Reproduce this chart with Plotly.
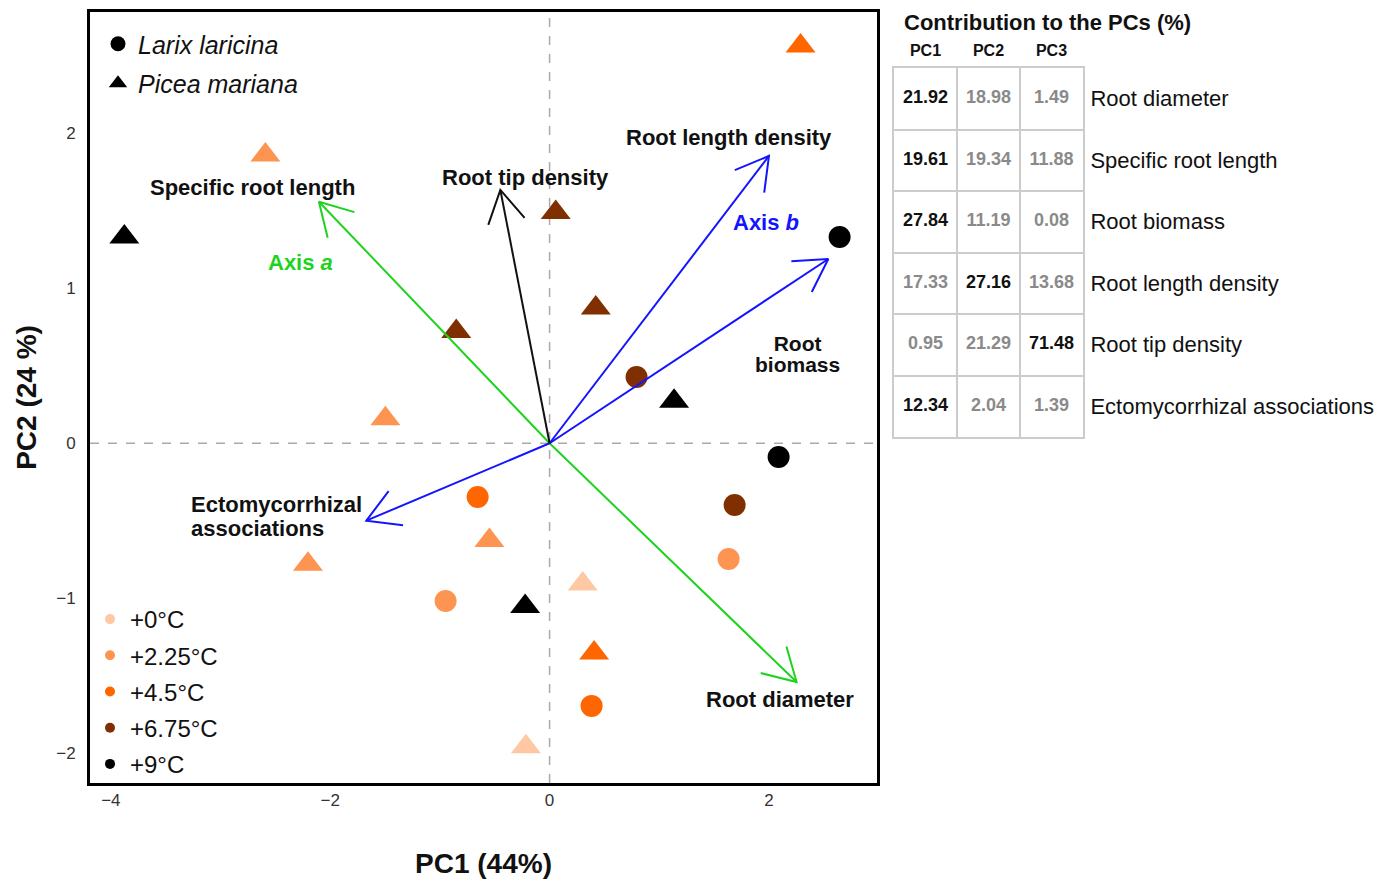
import math
import plotly.graph_objects as go

# ---------------- data ----------------
temps = ["+0°C", "+2.25°C", "+4.5°C", "+6.75°C", "+9°C"]
temp_colors = ["#FDC8A3", "#FD9452", "#FF6600", "#7F2F00", "#000000"]

larix_pc1 = [2.644, 2.088, 0.793, 1.687, 1.632, -0.656, -0.948, 0.383]
larix_pc2 = [1.330, -0.088, 0.427, -0.398, -0.746, -0.346, -1.017, -1.693]
larix_temp = ["+9°C", "+9°C", "+6.75°C", "+6.75°C", "+2.25°C", "+4.5°C", "+2.25°C", "+4.5°C"]

picea_pc1 = [2.288, -2.591, -3.877, 0.056, 0.421, 1.135, -0.851, -1.497, -0.549,
             -2.203, 0.302, -0.223, 0.406, -0.216]
picea_pc2 = [2.561, 1.858, 1.329, 1.488, 0.872, 0.271, 0.721, 0.158, -0.627,
             -0.780, -0.907, -1.053, -1.352, -1.956]
picea_temp = ["+4.5°C", "+2.25°C", "+9°C", "+6.75°C", "+6.75°C", "+9°C", "+6.75°C",
              "+2.25°C", "+2.25°C", "+2.25°C", "+0°C", "+9°C", "+4.5°C", "+0°C"]

loading_traits = ["Root diameter", "Specific root length", "Root biomass",
                  "Root length density", "Root tip density", "Ectomycorrhizal associations"]
loading_pc1 = [2.252, -2.103, 2.541, 2.000, -0.449, -1.671]
loading_pc2 = [-1.539, 1.557, 1.188, 1.852, 1.633, -0.499]
loading_axis = ["a", "a", "b", "b", "none", "b"]

contrib_traits = ["Root diameter", "Specific root length", "Root biomass",
                  "Root length density", "Root tip density", "Ectomycorrhizal associations"]
contrib_pcs = ["PC1", "PC2", "PC3"]
contrib_pc1 = [21.92, 19.61, 27.84, 17.33, 0.95, 12.34]
contrib_pc2 = [18.98, 19.34, 11.19, 27.16, 21.29, 2.04]
contrib_pc3 = [1.49, 11.88, 0.08, 13.68, 71.48, 1.39]
highlight_pc1 = [True, True, True, False, False, True]
highlight_pc2 = [False, False, False, True, False, False]
highlight_pc3 = [False, False, False, False, True, False]

# ---------------- layout constants ----------------
FONT = "Liberation Sans, Arial, sans-serif"
OFF = 8                      # page body margin of the html page
W, H = 1400 - OFF, 880 - OFF
M_L, M_R, M_T, M_B = 90 - OFF, 0, 12 - OFF, 97
PAPER_W = W - M_L - M_R
PAPER_H = H - M_T - M_B
PLOT_W = 787
X_RANGE = [-4.19, 2.985]
Y_RANGE = [-2.19, 2.78]
SX = PLOT_W / (X_RANGE[1] - X_RANGE[0])
SY = PAPER_H / (Y_RANGE[1] - Y_RANGE[0])
HEAD_LEN = 37
HEAD_ANGLE = 30
axis_colors = {"a": "#1ED31E", "b": "#1414FF", "none": "#111111"}


def px_x(px):
    return (px - OFF - M_L) / PAPER_W


def px_y(py):
    return (OFF + H - M_B - py) / PAPER_H


color_of = dict(zip(temps, temp_colors))

fig = go.Figure()

# ---------------- score points ----------------
fig.add_trace(go.Scatter(
    x=larix_pc1, y=larix_pc2, mode="markers", name="Larix laricina", showlegend=False,
    marker=dict(symbol="circle", size=22, color=[color_of[t] for t in larix_temp], line=dict(width=0)),
    text=larix_temp, hovertemplate="Larix laricina %{text}<br>PC1 %{x}<br>PC2 %{y}<extra></extra>"))
fig.add_trace(go.Scatter(
    x=picea_pc1, y=picea_pc2, mode="markers", name="Picea mariana", showlegend=False,
    marker=dict(symbol="triangle-up", size=26, color=[color_of[t] for t in picea_temp], line=dict(width=0)),
    text=picea_temp, hovertemplate="Picea mariana %{text}<br>PC1 %{x}<br>PC2 %{y}<extra></extra>"))


# ---------------- loading arrows ----------------
def arrow_path(xs, ys):
    px, py = [], []
    for x, y in zip(xs, ys):
        px += [0, x, None]
        py += [0, y, None]
        vx, vy = -x * SX, -y * SY
        n = math.hypot(vx, vy)
        ux, uy = vx / n, vy / n
        barbs = []
        for a in (math.radians(HEAD_ANGLE), -math.radians(HEAD_ANGLE)):
            rx = ux * math.cos(a) - uy * math.sin(a)
            ry = ux * math.sin(a) + uy * math.cos(a)
            barbs.append((x + rx * HEAD_LEN / SX, y + ry * HEAD_LEN / SY))
        px += [barbs[0][0], x, barbs[1][0], None]
        py += [barbs[0][1], y, barbs[1][1], None]
    return px, py


for grp in ["a", "b", "none"]:
    idx = [i for i, g in enumerate(loading_axis) if g == grp]
    ax_, ay_ = arrow_path([loading_pc1[i] for i in idx], [loading_pc2[i] for i in idx])
    fig.add_trace(go.Scatter(x=ax_, y=ay_, mode="lines", showlegend=False, hoverinfo="skip",
                             line=dict(color=axis_colors[grp], width=2)))

# ---------------- legends ----------------
fig.add_trace(go.Scatter(x=[None], y=[None], mode="markers", name="<i>Larix laricina</i>",
                         marker=dict(symbol="circle", size=15, color="black"),
                         legend="legend", legendgroup="sp1"))
fig.add_trace(go.Scatter(x=[None], y=[None], mode="markers", name="<i>Picea mariana</i>",
                         marker=dict(symbol="triangle-up", size=16, color="black"),
                         legend="legend", legendgroup="sp2"))
for t, c in zip(temps, temp_colors):
    fig.add_trace(go.Scatter(x=[None], y=[None], mode="markers", name=t,
                             marker=dict(symbol="circle", size=10, color=c),
                             legend="legend2", legendgroup=t))

# ---------------- contribution table ----------------
cols = [contrib_pc1, contrib_pc2, contrib_pc3]
hls = [highlight_pc1, highlight_pc2, highlight_pc3]
tx, ty, tt, tc = [], [], [], []
for r in range(len(contrib_traits)):
    for c in range(3):
        tx.append(c + 0.5)
        ty.append(r + 0.5)
        tt.append("<b>%.2f</b>" % cols[c][r])
        tc.append("#111111" if hls[c][r] else "#8a8a8a")
fig.add_trace(go.Scatter(x=tx, y=ty, mode="text", text=tt, xaxis="x2", yaxis="y2",
                         textfont=dict(family=FONT, size=18, color=tc), showlegend=False,
                         hoverinfo="skip", cliponaxis=False))


# ---------------- annotations ----------------
def bold(s):
    return "<b>%s</b>" % s


labels = [
    dict(text=bold("Specific root length"), x=-2.708, y=1.646),
    dict(text=bold("Root tip density"), x=-0.219, y=1.710),
    dict(text=bold("Root length density"), x=1.632, y=1.968),
    dict(text='<b><span style="font-size:21px">Root</span><br><span style="font-size:21px">biomass</span></b>',
         x=2.257, y=0.576, size=16.5),
    dict(text='<b><span style="font-size:22px">Ectomycorrhizal</span><br><span style="font-size:22px">associations</span></b>',
         x=-3.291, y=-0.469, size=18.5, xanchor="left", align="left"),
    dict(text=bold("Root diameter"), x=2.097, y=-1.653),
    dict(text="<b>Axis <i>a</i></b>", x=-2.27, y=1.168, color=axis_colors["a"]),
    dict(text="<b>Axis <i>b</i></b>", x=1.969, y=1.420, color=axis_colors["b"]),
]
annotations = []
for L in labels:
    annotations.append(dict(
        text=L["text"], x=L["x"], y=L["y"], xref="x", yref="y", showarrow=False,
        xanchor=L.get("xanchor", "center"), yanchor="middle", align=L.get("align", "center"),
        font=dict(family=FONT, size=L.get("size", 22), color=L.get("color", "#111111"))))
annotations.append(dict(
    text="<b>Contribution to the PCs (%)</b>", xref="paper", yref="paper",
    x=px_x(902), y=px_y(OFF), xanchor="left", yanchor="top",
    showarrow=False, font=dict(family=FONT, size=22, color="#111111")))

# ---------------- layout ----------------
main_dom_x = [0, PLOT_W / PAPER_W]
tab_dom_x = [px_x(894), px_x(1083)]
tab_dom_y = [px_y(437), px_y(68)]

fig.update_layout(
    width=W, height=H, margin=dict(l=M_L, r=M_R, t=M_T, b=M_B),
    paper_bgcolor="white", plot_bgcolor="white",
    font=dict(family=FONT, color="#111111"),
    xaxis=dict(domain=main_dom_x, range=X_RANGE, tickvals=[-4, -2, 0, 2], showgrid=False,
               zeroline=False, showline=True, mirror=True, linecolor="black", linewidth=3,
               ticks="", ticklabelstandoff=0, tickfont=dict(size=17, color="#333333"),
               title=dict(text="<b>PC1 (44%)</b>", font=dict(size=28, color="#111111"), standoff=44)),
    yaxis=dict(domain=[0, 1], range=Y_RANGE, tickvals=[-2, -1, 0, 1, 2], showgrid=False,
               zeroline=False, showline=True, mirror=True, linecolor="black", linewidth=3,
               ticks="", ticklabelstandoff=8, tickfont=dict(size=17, color="#333333"),
               title=dict(text="<b>PC2 (24 %)</b>", font=dict(size=28, color="#111111"), standoff=12)),
    xaxis2=dict(domain=tab_dom_x, anchor="y2", range=[0, 3], side="top",
                tickmode="array", tickvals=[0.5, 1.5, 2.5], ticktext=["<b>%s</b>" % p for p in contrib_pcs],
                tickfont=dict(size=16, color="#111111"), ticks="", ticklabelstandoff=4,
                showgrid=False, zeroline=False, showline=True, mirror=True,
                linecolor="#cccccc", linewidth=2,
                minor=dict(tickmode="linear", tick0=0, dtick=1, showgrid=True,
                           gridcolor="#cccccc", gridwidth=2, ticks="")),
    yaxis2=dict(domain=tab_dom_y, anchor="x2", range=[6, 0], side="right",
                tickmode="array", tickvals=[r + 0.5 for r in range(6)], ticktext=contrib_traits,
                tickfont=dict(size=22, color="#111111"), ticks="", ticklabelstandoff=1,
                showgrid=False, zeroline=False, showline=True, mirror=True,
                linecolor="#cccccc", linewidth=2,
                minor=dict(tickmode="linear", tick0=0, dtick=1, showgrid=True,
                           gridcolor="#cccccc", gridwidth=2, ticks="")),
    legend=dict(x=px_x(98), y=px_y(21), xanchor="left", yanchor="top",
                bgcolor="rgba(0,0,0,0)", font=dict(size=25, color="#111111"), tracegroupgap=4),
    legend2=dict(x=px_x(90), y=px_y(597), xanchor="left", yanchor="top",
                 bgcolor="rgba(0,0,0,0)", font=dict(size=24, color="#111111"), tracegroupgap=2),
    shapes=[
        dict(type="line", xref="x", yref="y domain", x0=0, x1=0, y0=0, y1=1, layer="below",
             line=dict(color="#aaaaaa", width=1.5, dash="dash")),
        dict(type="line", xref="x domain", yref="y", x0=0, x1=1, y0=0, y1=0, layer="below",
             line=dict(color="#aaaaaa", width=1.5, dash="dash")),
    ],
    annotations=annotations,
    hovermode="closest",
)

fig.write_html("out.html")
